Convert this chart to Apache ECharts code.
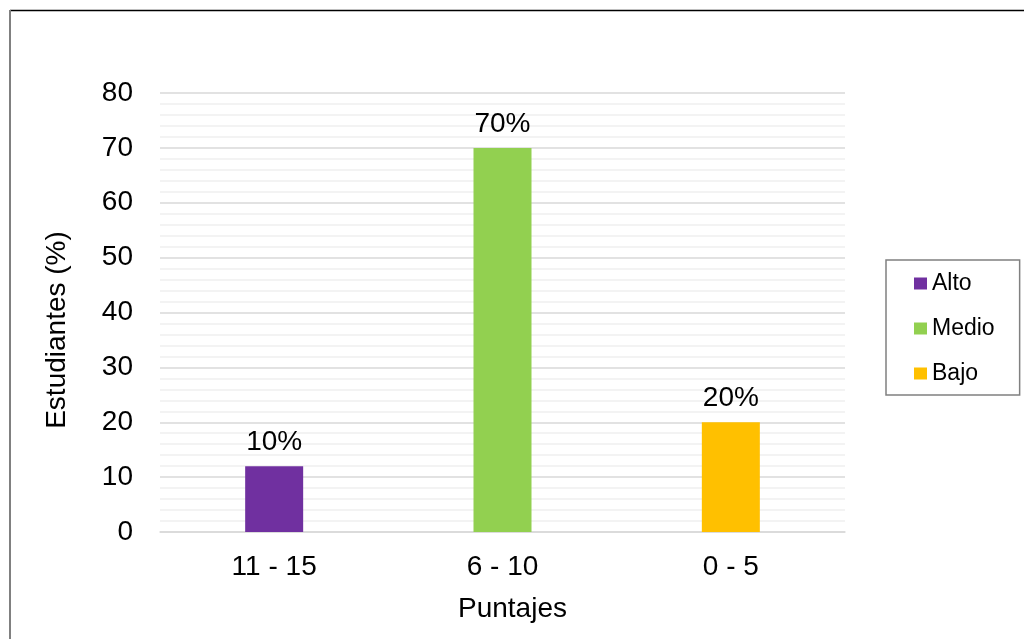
<!DOCTYPE html>
<html><head><meta charset="utf-8">
<script src="https://cdn.jsdelivr.net/npm/echarts@6/dist/echarts.min.js"></script>
<style>html,body{margin:0;padding:0;background:#fff}#c{width:1024px;height:639px}</style>
</head><body><div id="c"></div>
<script>
const categories = ['11 - 15', '6 - 10', '0 - 5'];
const seriesNames = ['Alto', 'Medio', 'Bajo'];
const values = [12, 70, 20];
const labels = ['10%', '70%', '20%'];
const colors = ['#7030A0', '#92D050', '#FFC000'];
const yTicks = { min: 0, max: 80, interval: 10 };

const FONT = 'Liberation Sans, Arial, sans-serif';
const series = seriesNames.map((name, i) => ({
  name: name,
  type: 'bar',
  stack: 'all',
  barWidth: 58,
  itemStyle: { color: colors[i] },
  data: categories.map((c, j) => j === i ? values[j] : '-'),
  label: {
    show: true, position: 'top', distance: 10,
    fontFamily: FONT, fontSize: 28, color: '#000',
    formatter: () => labels[i]
  }
}));

const chart = echarts.init(document.getElementById('c'));
chart.setOption({
  animation: false,
  backgroundColor: '#fff',
  textStyle: { fontFamily: FONT },
  graphic: [
    { type: 'line', shape: { x1: 10, y1: 10.5, x2: 1024, y2: 10.5 },
      style: { stroke: '#000', lineWidth: 1.5 }, silent: true },
    { type: 'line', shape: { x1: 10, y1: 10, x2: 10, y2: 639 },
      style: { stroke: '#808080', lineWidth: 2 }, silent: true }
  ],
  grid: { left: 160, right: 179, top: 93, bottom: 107, containLabel: false },
  legend: {
    orient: 'vertical', left: 886, top: 260,
    data: seriesNames,
    icon: 'rect', itemWidth: 13, itemHeight: 12, itemGap: 22,
    borderColor: '#808080', borderWidth: 1.5,
    padding: [12, 25, 10, 28],
    textStyle: { fontFamily: FONT, fontSize: 23, color: '#000' }
  },
  xAxis: {
    type: 'category', data: categories,
    name: 'Puntajes', nameLocation: 'middle', nameGap: 63,
    nameTextStyle: { fontFamily: FONT, fontSize: 28, color: '#000', padding: [0, 0, 0, 20] },
    axisLine: { show: true, lineStyle: { color: '#d9d9d9', width: 1.5 } },
    axisTick: { show: false },
    axisLabel: { fontFamily: FONT, fontSize: 28, color: '#000', margin: 21 }
  },
  yAxis: {
    type: 'value', min: yTicks.min, max: yTicks.max, interval: yTicks.interval,
    name: 'Estudiantes (%)', nameLocation: 'middle', nameGap: 89,
    nameTextStyle: { fontFamily: FONT, fontSize: 28, color: '#000', padding: [0, 35, 0, 0] },
    axisLine: { show: false }, axisTick: { show: false },
    axisLabel: { fontFamily: FONT, fontSize: 28, color: '#000', margin: 27, padding: [5, 0, 0, 0] },
    splitLine: { show: true, lineStyle: { color: '#d9d9d9', width: 1.5 } },
    minorTick: { show: false, splitNumber: 5 },
    minorSplitLine: { show: true, lineStyle: { color: '#f0f0f0', width: 1.5 } }
  },
  series: series
});
</script></body></html>
